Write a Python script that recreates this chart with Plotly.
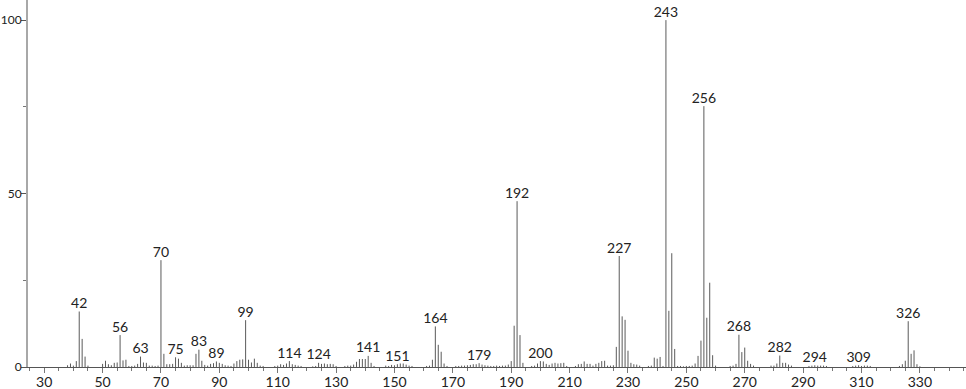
import plotly.graph_objects as go

mz = [38, 39, 40, 41, 42, 43, 44, 45, 50, 51, 52, 53, 54, 55, 56, 57, 58, 59, 60, 61,
      62, 63, 64, 65, 66, 67, 68, 69, 70, 71, 72, 73, 74, 75, 76, 77, 78, 79, 80, 81,
      82, 83, 84, 85, 86, 87, 88, 89, 90, 91, 92, 93, 94, 95, 96, 97, 98, 99, 100, 101,
      102, 103, 104, 105, 109, 110, 111, 112, 113, 114, 115, 116, 117, 118, 122, 123, 124, 125, 126, 127,
      128, 129, 130, 133, 134, 135, 136, 137, 138, 139, 140, 141, 142, 143, 147, 148, 149, 150, 151, 152,
      153, 154, 155, 156, 161, 162, 163, 164, 165, 166, 167, 168, 171, 172, 173, 174, 175, 176, 177, 178,
      179, 180, 181, 182, 183, 184, 185, 186, 187, 188, 189, 190, 191, 192, 193, 194, 197, 198, 199, 200,
      201, 202, 203, 204, 205, 206, 207, 208, 209, 212, 213, 214, 215, 216, 217, 218, 219, 220, 221, 222,
      223, 224, 225, 226, 227, 228, 229, 230, 231, 232, 233, 234, 237, 238, 239, 240, 241, 242, 243, 244,
      245, 246, 247, 248, 249, 250, 251, 252, 253, 254, 255, 256, 257, 258, 259, 260, 265, 266, 267, 268,
      269, 270, 271, 272, 273, 279, 280, 281, 282, 283, 284, 285, 286, 292, 293, 294, 295, 296, 297, 298,
      307, 308, 309, 310, 311, 312, 313, 323, 324, 325, 326, 327, 328, 329, 330]
intensity = [0.5, 1.0, 0.4, 1.7, 16.0, 8.1, 3.0, 0.4, 0.9, 1.8, 0.8, 0.5, 1.2, 1.3, 9.2, 1.9, 2.1, 0.3, 0.3, 0.4,
             0.9, 3.0, 1.3, 1.2, 0.4, 0.4, 0.3, 0.4, 30.8, 3.8, 0.8, 0.8, 0.9, 2.8, 2.4, 1.2, 0.4, 0.5, 0.5, 0.5,
             3.8, 5.0, 1.8, 0.6, 0.4, 0.9, 1.1, 1.6, 1.2, 0.9, 0.5, 0.4, 0.3, 1.0, 1.7, 2.1, 2.2, 13.5, 2.1, 1.3,
             2.4, 1.2, 0.4, 0.3, 0.3, 0.4, 0.8, 0.6, 1.0, 1.7, 0.8, 0.6, 0.4, 0.3, 0.2, 0.3, 1.2, 0.9, 1.0, 0.8,
             0.9, 0.8, 0.3, 0.3, 0.4, 0.4, 0.7, 1.5, 2.3, 2.3, 2.3, 3.2, 1.2, 0.3, 0.4, 0.3, 0.6, 0.5, 0.8, 1.0,
             1.0, 0.7, 0.4, 0.3, 0.3, 0.4, 2.1, 11.7, 6.4, 4.4, 1.0, 0.3, 0.3, 0.3, 0.4, 0.4, 0.5, 0.6, 0.8, 0.8,
             1.1, 0.7, 0.5, 0.4, 0.3, 0.3, 0.4, 0.3, 0.4, 0.4, 0.7, 1.7, 11.9, 47.8, 9.2, 1.2, 0.3, 0.4, 1.0, 1.7,
             1.6, 0.9, 0.6, 1.0, 1.2, 1.0, 1.1, 1.2, 0.3, 0.3, 0.8, 0.9, 1.6, 0.9, 0.9, 0.4, 0.9, 1.2, 1.7, 1.8,
             0.4, 0.4, 0.5, 5.8, 32.0, 14.6, 13.6, 4.7, 1.2, 0.8, 0.7, 0.4, 0.3, 0.4, 2.7, 2.4, 2.9, 0.3, 100.0, 16.2,
             32.8, 5.2, 0.3, 0.3, 0.2, 0.3, 0.3, 0.4, 1.0, 3.2, 7.6, 75.2, 14.2, 24.3, 3.4, 0.4, 0.3, 0.4, 0.9, 9.3,
             4.3, 5.6, 1.8, 0.9, 0.4, 0.4, 0.4, 1.0, 3.3, 1.2, 1.2, 0.7, 0.4, 0.3, 0.4, 0.5, 0.4, 0.4, 0.4, 0.3,
             0.3, 0.4, 0.5, 0.3, 0.4, 0.4, 0.3, 0.3, 0.8, 1.8, 13.2, 3.8, 4.8, 0.8, 0.2]

labeled_mz = [42, 56, 63, 70, 75, 83, 89, 99, 114, 124, 141, 151, 164, 179, 192, 200,
              227, 243, 256, 268, 282, 294, 309, 326]

x_ticks = [30, 50, 70, 90, 110, 130, 150, 170, 190, 210, 230, 250, 270, 290, 310, 330]
y_ticks = [0, 50, 100]

# stick spectrum built from data
sx, sy = [], []
for m, v in zip(mz, intensity):
    sx += [m, m, None]
    sy += [0, v, None]

lookup = dict(zip(mz, intensity))
lab_y = [lookup[m] for m in labeled_mz]
lab_t = [str(m) for m in labeled_mz]

FONT = "Lato"

fig = go.Figure()
fig.add_trace(go.Scatter(x=sx, y=sy, mode="lines",
                         line=dict(color="#5a5a5a", width=1),
                         hoverinfo="skip", showlegend=False))
fig.add_trace(go.Scatter(x=labeled_mz, y=lab_y, mode="text", text=lab_t,
                         textposition="top center",
                         textfont=dict(family=FONT, size=14, color="#222"),
                         cliponaxis=False, showlegend=False, hoverinfo="skip"))

fig.update_layout(
    width=966, height=389,
    margin=dict(l=28, r=0, t=0, b=22, autoexpand=False),
    plot_bgcolor="white", paper_bgcolor="white",
    font=dict(family=FONT, size=14, color="#222"),
    xaxis=dict(range=[24.45, 345.8], showgrid=False, zeroline=False, automargin=False,
               showline=True, linecolor="#555", linewidth=1,
               tickmode="array", tickvals=x_ticks, ticktext=[str(t) for t in x_ticks],
               ticks="outside", ticklen=5, tickcolor="#777", tickwidth=1,
               ticklabelstandoff=-3,
               minor=dict(dtick=5, tick0=0, ticks="outside", ticklen=3, tickcolor="#777"),
               tickfont=dict(family=FONT, size=14, color="#222")),
    yaxis=dict(range=[0, 105.8], showgrid=False, zeroline=False, automargin=False,
               showline=True, linecolor="#a8a8a8", linewidth=2,
               tickmode="array", tickvals=y_ticks, ticktext=[str(t) for t in y_ticks],
               ticks="outside", ticklen=5, tickcolor="#555", tickwidth=1,
               ticklabelstandoff=-3,
               minor=dict(dtick=25, tick0=0, ticks="outside", ticklen=3, tickcolor="#777"),
               tickfont=dict(family=FONT, size=12, color="#222")),
)

fig.write_html("out.html")
